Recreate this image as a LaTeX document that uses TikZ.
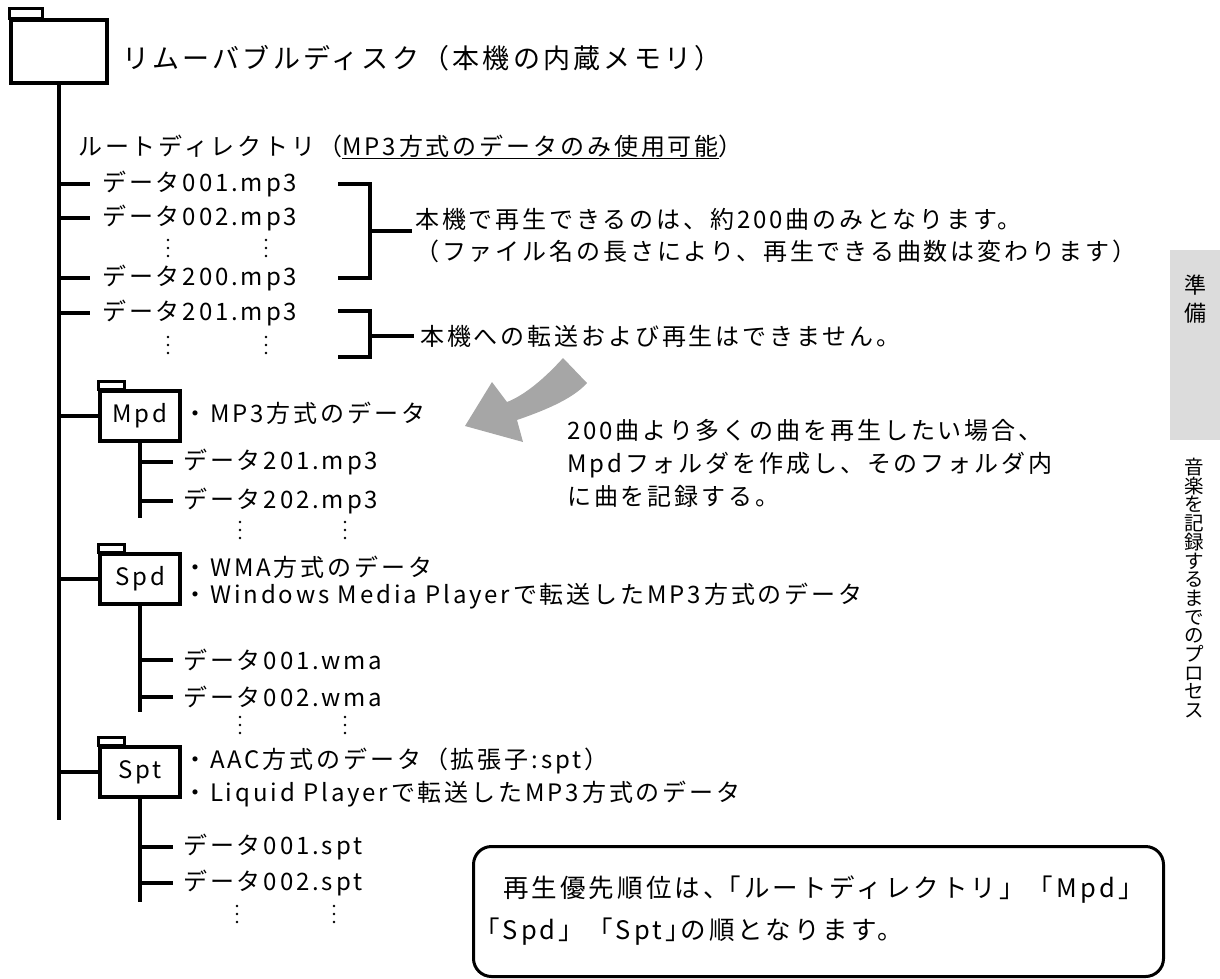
\documentclass[tikz,border=0pt]{standalone}
\usepackage{fontspec}
\setmainfont{Noto Sans CJK JP}[LetterSpace=12]
\definecolor{arrowgray}{HTML}{A6A6A6}
\definecolor{tabgray}{HTML}{DCDCDC}
\tikzset{
  txt/.style={anchor=west, inner sep=0pt, font=\fontsize{24}{28}\selectfont},
  bigtxt/.style={anchor=west, inner sep=0pt, font=\fontsize{27}{32}\selectfont},
  boxtxt/.style={anchor=west, inner sep=0pt, font=\fontsize{25.5}{30}\selectfont},
  ln/.style={line width=3.5pt},
  folder/.style={draw, line width=3.5pt, minimum width=80pt, minimum height=50pt, inner sep=0pt, font=\fontsize{24}{28}\selectfont},
  tabline/.style={line width=2.5pt}
}
\newcommand\vdotsat[3]{%
  \foreach \dd in {0,8,16}{%
    \fill (#1,#3+\dd) circle[radius=1.4pt];
    \fill (#2,#3+\dd) circle[radius=1.4pt];}}
\begin{document}
\begin{tikzpicture}[x=1pt,y=-1pt]
\useasboundingbox (0,0) rectangle (1220,978);
% sidebar
\node[fill=tabgray, minimum width=50pt, minimum height=190pt, anchor=north west, inner sep=0pt] (sidetab) at (1170,250) {};
\node[font=\fontsize{22}{28}\selectfont, align=center, inner sep=0pt] (junbi) at (1195,299) {準\\備};
\node[font={\fontsize{19.5}{18.7}\selectfont\lineskiplimit=-30pt}, align=center, inner sep=0pt, anchor=north] (side) at (1194,458)
  {音\\楽\\を\\記\\録\\す\\る\\ま\\で\\の\\プ\\ロ\\セ\\ス};
% top folder
\node[folder, minimum width=96pt, minimum height=63pt] (topf) at (59,51.5) {};
\draw[tabline] (topf.north west) rectangle ++(33,-10);
\node[bigtxt] (title) at (122,58) {リムーバブルディスク（本機の内蔵メモリ）};
\coordinate (trunkend) at (59,820);
\draw[ln] (topf.south) -- (trunkend);
% root directory
\node[txt] (root) at (78,147) {ルートディレクトリ（\underline{MP3方式のデータのみ使用可能}）};
\node[txt] (f1) at (102,184) {データ001.mp3};
\node[txt] (f2) at (102,218) {データ002.mp3};
\node[txt] (f200) at (102,278) {データ200.mp3};
\node[txt] (f201) at (102,313) {データ201.mp3};
\foreach \n in {f1,f2,f200,f201}
  \draw[ln] (topf.south |- \n.west) -- ([xshift=-12pt]\n.west);
\vdotsat{168}{266}{240}
\vdotsat{168}{266}{337}
% brackets
\coordinate (b1t) at (338,184); \coordinate (b1b) at (338,278);
\coordinate (b1x) at (370,0);
\draw[ln] (b1t) -- (b1t -| b1x) -- (b1b -| b1x) -- (b1b);
\coordinate (b1m) at (370,231); \coordinate (b1e) at (412,231);
\draw[ln] (b1m) -- (b1e);
\node[txt, align=left, font=\fontsize{24}{32}\selectfont] (note1) at (415,236)
  {本機で再生できるのは、約200曲のみとなります。\\（ファイル名の長さにより、再生できる曲数は変わります）};
\coordinate (b2t) at (338,311); \coordinate (b2b) at (338,357);
\draw[ln] (b2t) -- (b2t -| b1x) -- (b2b -| b1x) -- (b2b);
\node[txt] (note2) at (420,336) {本機への転送および再生はできません。};
\draw[ln] (b1x |- note2.west) -- ([xshift=-6pt]note2.west);
% arrow
\fill[arrowgray] (563,358) .. controls (545,378) and (525,395) .. (507,402) -- (492,382) -- (465,426)
  -- (523,442) -- (517,420) .. controls (540,412) and (572,400) .. (587,383) -- cycle;
\node[txt, align=left, font=\fontsize{24}{33}\selectfont] (hint) at (567,463)
  {200曲より多くの曲を再生したい場合、\\Mpdフォルダを作成し、そのフォルダ内\\に曲を記録する。};
% Mpd
\node[folder] (mpd) at (140,416) {Mpd};
\draw[tabline] (mpd.north west) rectangle ++(26,-8);
\draw[ln] (topf.south |- mpd.west) -- (mpd.west);
\node[txt] (mpdinfo) at (183,413) {・MP3方式のデータ};
\node[txt] (m1) at (183,462) {データ201.mp3};
\node[txt] (m2) at (183,501) {データ202.mp3};
\coordinate (mpdend) at (140,518);
\draw[ln] (mpd.south) -- (mpdend);
\foreach \n in {m1,m2}
  \draw[ln] (mpd.south |- \n.west) -- ([xshift=-10pt]\n.west);
\vdotsat{240}{345}{522}
% Spd
\node[folder] (spd) at (140,579) {Spd};
\draw[tabline] (spd.north west) rectangle ++(26,-8);
\draw[ln] (topf.south |- spd.west) -- (spd.west);
\node[txt] (spdinfoa) at (183,567) {・WMA方式のデータ};
\node[txt] (spdinfob) at (183,596) {・Windows Media Playerで転送したMP3方式のデータ};
\node[txt] (w1) at (183,660) {データ001.wma};
\node[txt] (w2) at (183,697) {データ002.wma};
\coordinate (spdend) at (140,712);
\draw[ln] (spd.south) -- (spdend);
\foreach \n in {w1,w2}
  \draw[ln] (spd.south |- \n.west) -- ([xshift=-10pt]\n.west);
\vdotsat{240}{345}{717}
% Spt
\node[folder] (spt) at (140,772) {Spt};
\draw[tabline] (spt.north west) rectangle ++(26,-8);
\draw[ln] (topf.south |- spt.west) -- (spt.west);
\node[txt] (sptinfoa) at (183,761) {・AAC方式のデータ（拡張子:spt）};
\node[txt] (sptinfob) at (183,794) {・Liquid Playerで転送したMP3方式のデータ};
\node[txt] (s1) at (183,847) {データ001.spt};
\node[txt] (s2) at (183,883) {データ002.spt};
\coordinate (sptend) at (140,902);
\draw[ln] (spt.south) -- (sptend);
\foreach \n in {s1,s2}
  \draw[ln] (spt.south |- \n.west) -- ([xshift=-10pt]\n.west);
\vdotsat{237}{334}{906}
% priority box
\node[draw, line width=3pt, rounded corners=18pt, minimum width=690pt, minimum height=130pt, anchor=north west, inner sep=0pt] (box) at (472,845) {};
\node[boxtxt] (boxa) at (503,890) {再生優先順位は、\kern-13pt「ルートディレクトリ」「Mpd」};
\node[boxtxt] (boxb) at (474,932) {「Spd」「Spt」\kern-10pt の順となります。};
\end{tikzpicture}
\end{document}
